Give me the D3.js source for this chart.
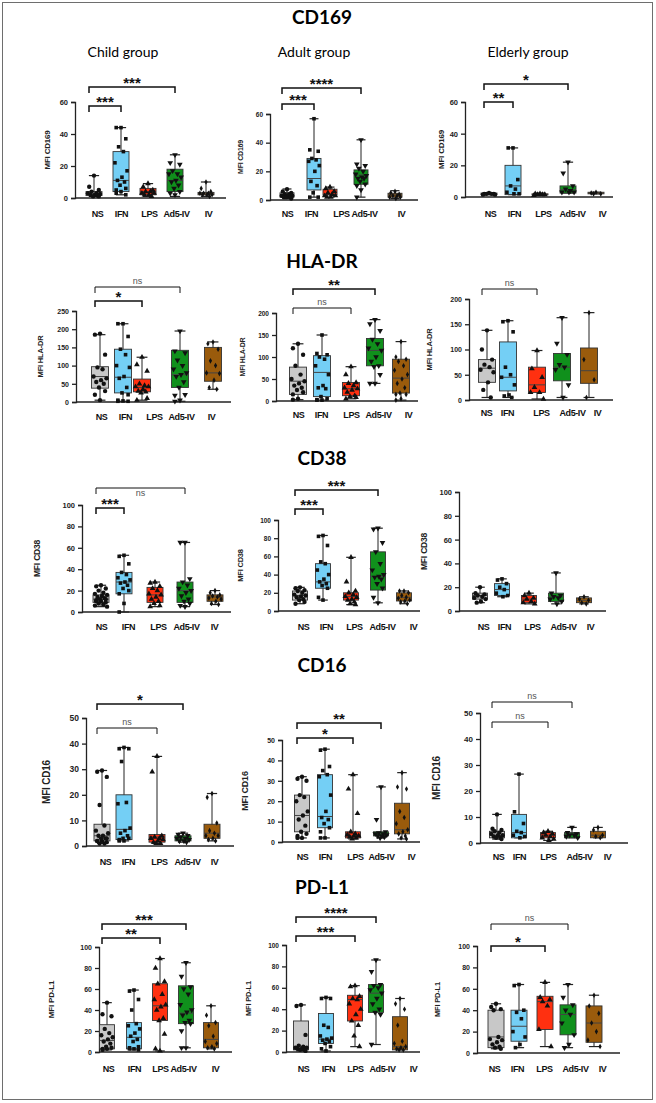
<!DOCTYPE html>
<html>
<head>
<meta charset="utf-8">
<script src="https://cdn.jsdelivr.net/npm/d3@7"></script>
<style>
body { margin: 0; background: #fff; }
svg { display: block; }
</style>
</head>
<body>
<div id="chart"></div>
<script>
// groups, colours of the boxes
var groups = ["NS", "IFN", "LPS", "Ad5-IV", "IV"];
var ages = ["Child group", "Adult group", "Elderly group"];
var markers = ["CD169", "HLA-DR", "CD38", "CD16", "PD-L1"];

// box stats per group: [min, q1, median, q3, max]
var cd169ChildBox = [[1,1.5,2.5,4,14],[2,4,11,29,44],[1,2,4,6,9],[1,4,11,18,27],[1,2,3,3.5,10]];
var cd169ChildPts = [[14,7,5,4,3,3,2.5,2,2,1.5,1,1],[44,44,37,32,29,22,17,13,11,10,8,6,5,4,3,2],[9,7,5,4,4,3,3,2,2,1],[27,22,21,17,15,15,13,11,10,8,6,4,3,2],[10,6,4,3,3,3,2,2,2,1]];
var cd169AdultBox = [[1,2,3,5,7.7],[2,7,15,29,56.7],[2,3.5,4,7.5,9],[2,11,17.5,21,42],[1,2,3.5,4.7,6.5]];
var cd169AdultPts = [[7.5,6,5,4,4,3,3,3,2,2,2,1],[56.7,35,34,29,28,27,24,20,13,10,5,2,2],[9,8,6,5,4,3,3,2,2],[42,25,24,22,20,18,17,16,15,15,13,11,10,7,2],[6,5,4,3,3,2,2,1]];
var cd169ElderBox = [[1.5,1.5,2,2.5,2.7],[1.5,1.5,7,20,31],[1,1.5,1.5,2,2.5],[2.5,2.5,4.6,7,22],[2,2,2.5,3,3]];
var cd169ElderPts = [[2.5,2,2,2,2,1.5,1.5],[31,31,11,7,5,3,2,2],[2,2,1.5,1.5,1.5,1],[22,15,7,5,4,3,3,3],[3,2.5,2,2]];

var hlaChildBox = [[5,38,70,97,185],[2,25,68,145,215],[5,28,40,63,123],[2,40,75,142,195],[35,57,80,150,165]];
var hlaChildPts = [[188,185,130,95,90,70,65,60,55,50,40,30,20,5],[215,215,180,145,130,100,95,70,65,40,25,20,5,3,2,2],[123,103,85,50,45,42,42,35,30,28,25,10,5],[195,140,135,115,100,90,80,75,70,55,40,20,18,5,2],[165,160,145,113,100,80,78,60,40,35]];
var hlaAdultBox = [[3,15,45,77,130],[2,10,65,103,150],[5,12,28,42,78],[40,80,115,142,185],[2,18,52,95,135]];
var hlaAdultPts = [[130,120,105,80,60,50,45,40,35,30,25,20,15,5,3],[150,108,105,100,95,80,60,35,30,28,10,5,3,2,2],[78,60,42,40,35,30,28,25,20,12,10,8,5],[185,175,160,140,130,120,115,100,90,80,78,60,40,40],[135,100,95,90,80,70,60,50,40,30,18,15,15,5,2]];
var hlaElderBox = [[5,35,63,80,138],[5,18,45,115,157],[2,15,30,65,98],[5,38,65,92,163],[5,33,58,103,173]];
var hlaElderPts = [[138,100,80,70,65,60,55,35,20,5],[157,155,135,65,50,45,30,10,8,5],[98,62,45,25,15,15,2],[163,112,90,70,65,60,30,5],[173,80,40,5]];

var cd38ChildBox = [[5,9,12,16,25],[0,17,28,37,53],[5,9,16,23,28],[5,9,20,28,65],[7,10,14,16,20]];
var cd38ChildPts = [[25,24,22,20,18,17,16,15,14,13,12,12,11,10,10,9,8,7,6,5],[53,52,45,37,35,32,30,28,27,25,22,20,17,8,0],[28,27,24,22,20,17,16,14,12,10,8,6,5],[65,65,31,28,25,22,20,18,15,12,10,8,6,5],[20,18,16,15,14,13,12,10,8,7]];
var cd38AdultBox = [[8,12,17,22,26],[12,25,32,52,83],[7,12,16,20,59],[9,23,38,65,91],[8,11,15,20,22]];
var cd38AdultPts = [[26,25,23,22,20,18,17,16,15,13,12,10,8],[83,82,72,54,52,45,40,35,32,30,28,25,15,12],[59,32,22,20,18,16,15,13,12,10,8,7],[91,90,75,65,52,45,40,38,37,35,30,25,15,9],[22,22,20,17,15,14,12,11,10,8]];
var cd38ElderBox = [[7,10,13,15,20],[12,13,18,23,27],[6,7,10,13,15],[6,8,12,15,32],[6,7,9,11,12]];
var cd38ElderPts = [[20,15,14,13,12,11,10,8,7],[27,26,23,20,18,15,13,12],[15,13,11,10,8,7,6],[32,15,13,12,11,10,8,6],[12,10,9,7,6]];

var cd16ChildBox = [[1,2,4,8.5,29.5],[2,2.5,6.5,20,38.5],[1,1.5,3.5,4.5,35],[1.5,2,3,4,5],[2,3,5,8.5,20.5]];
var cd16ChildPts = [[29.5,29,27,16,8,6,5,4,4,3,3,3,2,2,2,1.5,1,1],[38.5,38,38,33,17,16.5,7,6,5,4,3,3,2.5,2,2],[35,29,4,3.5,3,3,2.5,2,1.5,1,1],[5,4.5,4,3.5,3,3,2.5,2,2,1.5],[20.5,19,9,6,5,4,4,3,2.5,2]];
var cd16AdultBox = [[2,5,13,23,32],[2,7,12.5,33,45.5],[1.5,2,3,5,33],[2,3,4,5,27],[1.5,4,6,19,34]];
var cd16AdultPts = [[32,31,30,23,22,20,15,13,11,8,5,4,3,2,2],[45.5,45,37,35,33,32,23,15,12,11,9,7,5,2,2],[33,26,14,5,4,3.5,3,3,2.5,2,1.5],[27,11,5,4.5,4,4,3.5,3,3,2.5,2],[34,27,26,15,12,9,6,5,4,3,2,1.5]];
var cd16ElderBox = [[1.5,2,3,4.5,11],[2,2,4,11,26.5],[1,2,3,4,4.5],[2,2,3.5,4,6],[2,2,3,4.5,6]];
var cd16ElderPts = [[11,5.5,5,4.5,4,3.5,3,3,2.5,2,2,1.5],[26.5,12,7.5,4.5,4,3,2.5,2],[4.5,4,3.5,3,2.5,2,1.5,1],[6,4,3.5,3,3,2.5,2],[6,5,3,2.5,2]];

var pdl1ChildBox = [[2,3,11,26,47],[2,3,14,28,59],[1,30,44,65,89],[4,27,37,63,85],[3,4,12,28,44]];
var pdl1ChildPts = [[47,36,34,22,18,16,14,12,10,8,5,4,3,3,2],[59,58,50,40,27,25,22,18,15,12,10,5,4,3,3,2],[89,80,67,65,55,50,45,43,40,32,30,17,3,1],[85,72,62,60,55,45,40,38,35,30,28,27,20,4,4],[44,35,28,25,15,10,8,5,4,3]];
var pdl1AdultBox = [[1,2,5,29,44],[1,8,12,36,51],[5,29,49,53,62],[7,37,55,63,86],[2,2,5,33,50]];
var pdl1AdultPts = [[44,43,16,6,5,4,4,3,3,2,2,1],[51,50,50,25,23,15,13,12,11,10,8,5,3,1],[62,61,52,50,49,45,40,35,29,25,15,5],[86,75,63,62,60,58,55,50,45,40,37,35,7],[50,45,40,25,10,8,5,4,3,2,2]];
var pdl1ElderBox = [[4,5,15,40,46],[5,11,25,40,64],[6,22,48,53,66],[5,17,36,45,64],[6,10,28,44,54]];
var pdl1ElderPts = [[46,43,41,40,15,13,12,10,8,6,5,4],[64,63,40,38,32,20,15,8,5],[66,52,50,48,44,22,6],[64,52,45,40,36,28,17,8,5],[54,44,37,28,20,12,6]];

// significance brackets: [from, to, label]
var cd169ChildSig = [["NS","Ad5-IV","***"],["NS","IFN","***"]];
var cd169AdultSig = [["NS","Ad5-IV","****"],["NS","IFN","***"]];
var cd169ElderSig = [["NS","Ad5-IV","*"],["NS","IFN","**"]];
var hlaChildSig = [["NS","Ad5-IV","ns"],["NS","LPS","*"]];
var hlaAdultSig = [["NS","Ad5-IV","**"],["NS","LPS","ns"]];
var hlaElderSig = [["NS","LPS","ns"]];
var cd38ChildSig = [["NS","Ad5-IV","ns"],["NS","IFN","***"]];
var cd38AdultSig = [["NS","Ad5-IV","***"],["NS","IFN","***"]];
var cd38ElderSig = [];
var cd16ChildSig = [["NS","Ad5-IV","*"],["NS","LPS","ns"]];
var cd16AdultSig = [["NS","Ad5-IV","**"],["NS","LPS","*"]];
var cd16ElderSig = [["NS","Ad5-IV","ns"],["NS","LPS","ns"]];
var pdl1ChildSig = [["NS","Ad5-IV","***"],["NS","LPS","**"]];
var pdl1AdultSig = [["NS","Ad5-IV","****"],["NS","LPS","***"]];
var pdl1ElderSig = [["NS","Ad5-IV","ns"],["NS","LPS","*"]];

var yMax = [60, 60, 60, 250, 200, 200, 100, 100, 100, 50, 50, 50, 100, 100, 100];

// ---- layout (pixels) ----
var fills = ["#c8c8c8", "#74cff5", "#ff3010", "#10901c", "#9a5b0c"];
var shapes = [d3.symbolCircle, d3.symbolSquare, d3.symbolTriangle, d3.symbolTriangle, d3.symbolDiamond];
var sizes = [15, 13, 14, 14, 9];
var jit = [0, -0.3, 0.3, -0.15, 0.15, -0.38, 0.38, 0.06, -0.22, 0.22, -0.06, 0.3, -0.3];

var panels = [
  {box:cd169ChildBox, pts:cd169ChildPts, sig:cd169ChildSig, l:75, r:226, y0:198, y1:102, step:20,
   cx:[94,121,148,175,206], lx:[97,121,149,176,208], ly:217, ylx:50, yl:"MFI CD169", ylf:8, tf:7.5, bw:16, by:[87,106]},
  {box:cd169AdultBox, pts:cd169AdultPts, sig:cd169AdultSig, l:270, r:418, y0:200, y1:114, step:20,
   cx:[287,314,330,361,395], lx:[287,311,341,364,401], ly:217, ylx:243, yl:"MFI CD169", ylf:7, tf:6.5, bw:14, by:[88,104]},
  {box:cd169ElderBox, pts:cd169ElderPts, sig:cd169ElderSig, l:465, r:613, y0:197, y1:102, step:20,
   cx:[489,513,540,568,596], lx:[490,514,543,572,602], ly:217, ylx:444, yl:"MFI CD169", ylf:8, tf:7.5, bw:16, by:[84,102]},

  {box:hlaChildBox, pts:hlaChildPts, sig:hlaChildSig, l:76, r:231, y0:402, y1:311, step:50,
   cx:[100,123,142,180,213], lx:[101,125,154,181,211], ly:420, ylx:43, yl:"MFI HLA-DR", ylf:7.5, tf:7, bw:17, by:[287,301]},
  {box:hlaAdultBox, pts:hlaAdultPts, sig:hlaAdultSig, l:276, r:418, y0:401, y1:313, step:50,
   cx:[298,322,351,375,401], lx:[298,321,351,378,408], ly:418, ylx:245, yl:"MFI HLA-DR", ylf:7, tf:6.5, bw:17, by:[289,308]},
  {box:hlaElderBox, pts:hlaElderPts, sig:hlaElderSig, l:469, r:613, y0:400, y1:299, step:50,
   cx:[487,508,537,562,589], lx:[486,507,541,572,597], ly:416, ylx:432, yl:"MFI HLA-DR", ylf:7.5, tf:7, bw:17, by:[289]},

  {box:cd38ChildBox, pts:cd38ChildPts, sig:cd38ChildSig, l:82, r:231, y0:612, y1:505, step:20,
   cx:[101,124,155,185,215], lx:[101,128,158,186,214], ly:630, ylx:40, yl:"MFI CD38", ylf:8.5, tf:7.5, bw:16, by:[488,508], nsBelow:true},
  {box:cd38AdultBox, pts:cd38AdultPts, sig:cd38AdultSig, l:278, r:420, y0:611, y1:520, step:20,
   cx:[300,323,351,378,404], lx:[303,326,354,382,413], ly:630, ylx:243, yl:"MFI CD38", ylf:7.5, tf:6.5, bw:15, by:[490,509]},
  {box:cd38ElderBox, pts:cd38ElderPts, sig:cd38ElderSig, l:459, r:606, y0:611, y1:492, step:20,
   cx:[480,502,529,556,584], lx:[483,504,532,563,590], ly:630, ylx:427, yl:"MFI CD38", ylf:8.5, tf:7.5, bw:15, by:[]},

  {box:cd16ChildBox, pts:cd16ChildPts, sig:cd16ChildSig, l:86, r:234, y0:846, y1:718, step:10,
   cx:[102,124,157,183,212], lx:[105,128,159,187,214], ly:865, ylx:50, yl:"MFI CD16", ylf:10, tf:8.5, bw:16, by:[704,728]},
  {box:cd16AdultBox, pts:cd16AdultPts, sig:cd16AdultSig, l:282, r:420, y0:842, y1:740, step:10,
   cx:[302,325,353,381,402], lx:[302,325,355,381,411], ly:860, ylx:248, yl:"MFI CD16", ylf:9, tf:7, bw:15, by:[723,738]},
  {box:cd16ElderBox, pts:cd16ElderPts, sig:cd16ElderSig, l:480, r:628, y0:843, y1:713, step:10,
   cx:[497,519,548,572,598], lx:[498,519,548,579,607], ly:860, ylx:440, yl:"MFI CD16", ylf:10, tf:8, bw:15, by:[702,722]},

  {box:pdl1ChildBox, pts:pdl1ChildPts, sig:pdl1ChildSig, l:99, r:232, y0:1052, y1:947, step:20,
   cx:[107,134,160,186,211], lx:[108,134,160,183,215], ly:1072, ylx:54, yl:"MFI PD-L1", ylf:8, tf:7, bw:15, by:[924,938]},
  {box:pdl1AdultBox, pts:pdl1AdultPts, sig:pdl1AdultSig, l:286, r:420, y0:1052, y1:945, step:20,
   cx:[301,326,355,376,400], lx:[303,328,355,382,413], ly:1072, ylx:251, yl:"MFI PD-L1", ylf:7.5, tf:6.5, bw:15, by:[917,936]},
  {box:pdl1ElderBox, pts:pdl1ElderPts, sig:pdl1ElderSig, l:477, r:620, y0:1053, y1:946, step:20,
   cx:[496,519,545,568,594], lx:[494,517,544,575,602], ly:1072, ylx:440, yl:"MFI PD-L1", ylf:7.5, tf:7, bw:16, by:[924,946]}
];

var titleY = [24, 268, 465, 672, 894];
var subX = [123, 314, 528];

var svg = d3.select("#chart").append("svg")
  .attr("width", 656)
  .attr("height", 1103);

svg.append("rect")
  .attr("x", 2.5).attr("y", 2.5)
  .attr("width", 650).attr("height", 1097)
  .attr("fill", "none")
  .attr("stroke", "#6e6e6e")
  .attr("stroke-width", 1);

svg.selectAll(".title")
  .data(markers)
  .enter().append("text")
    .attr("class", "title")
    .attr("x", 322)
    .attr("y", function(d, i) { return titleY[i]; })
    .attr("text-anchor", "middle")
    .attr("font-family", "Lato, 'Open Sans', sans-serif")
    .attr("font-weight", "bold")
    .attr("font-size", "19px")
    .text(function(d) { return d; });

svg.selectAll(".sub")
  .data(ages)
  .enter().append("text")
    .attr("class", "sub")
    .attr("x", function(d, i) { return subX[i]; })
    .attr("y", 57)
    .attr("text-anchor", "middle")
    .attr("font-family", "Lato, 'Open Sans', sans-serif")
    .attr("font-size", "14px")
    .text(function(d) { return d; });

var font = "'Liberation Sans', Arial, sans-serif";

panels.forEach(function(p, k) {
  var g = svg.append("g");

  var y = d3.scaleLinear()
    .domain([0, yMax[k]])
    .range([p.y0, p.y1]);
  var x = d3.scaleOrdinal().domain(groups).range(p.cx);
  var xl = d3.scaleOrdinal().domain(groups).range(p.lx);

  // y axis
  var yAxis = g.append("g")
    .attr("transform", "translate(" + p.l + ",0)")
    .call(d3.axisLeft(y).tickValues(d3.range(0, yMax[k] + 0.001, p.step)).tickSize(4).tickPadding(3));
  yAxis.selectAll("text")
    .attr("font-family", font)
    .attr("font-weight", "bold")
    .attr("font-size", p.tf + "px")
    .attr("fill", "#222");
  yAxis.selectAll("line, path").attr("stroke", "#222").attr("stroke-width", 1.3);

  // x axis line
  g.append("line")
    .attr("x1", p.l).attr("x2", p.r)
    .attr("y1", p.y0).attr("y2", p.y0)
    .attr("stroke", "#222").attr("stroke-width", 1.4);

  var xAxis = g.append("g")
    .attr("transform", "translate(0," + p.ly + ")")
    .call(d3.axisBottom(xl).tickSize(0).tickPadding(0));
  xAxis.select(".domain").remove();
  xAxis.selectAll("text")
    .attr("dy", 0)
    .attr("font-family", font)
    .attr("font-weight", "bold")
    .attr("font-size", "9px")
    .attr("letter-spacing", "-0.4px")
    .attr("fill", "#111");

  // y label
  g.append("text")
    .attr("transform", "translate(" + p.ylx + "," + ((p.y0 + p.y1) / 2) + ") rotate(-90)")
    .attr("text-anchor", "middle")
    .attr("font-family", font)
    .attr("font-weight", "bold")
    .attr("font-size", p.ylf + "px")
    .attr("letter-spacing", "-0.2px")
    .attr("fill", "#222")
    .text(p.yl);

  // boxes
  var boxes = g.selectAll(".bx")
    .data(p.box)
    .enter().append("g");

  boxes.append("line")
    .attr("x1", function(d, i) { return x(groups[i]); })
    .attr("x2", function(d, i) { return x(groups[i]); })
    .attr("y1", function(d) { return y(d[0]); })
    .attr("y2", function(d) { return y(d[4]); })
    .attr("stroke", "#222").attr("stroke-width", 1);

  [0, 4].forEach(function(j) {
    boxes.append("line")
      .attr("x1", function(d, i) { return x(groups[i]) - p.bw * 0.32; })
      .attr("x2", function(d, i) { return x(groups[i]) + p.bw * 0.32; })
      .attr("y1", function(d) { return y(d[j]); })
      .attr("y2", function(d) { return y(d[j]); })
      .attr("stroke", "#222").attr("stroke-width", 1.2);
  });

  boxes.append("rect")
    .attr("x", function(d, i) { return x(groups[i]) - p.bw / 2; })
    .attr("y", function(d) { return y(d[3]); })
    .attr("width", p.bw)
    .attr("height", function(d) { return Math.max(1, y(d[1]) - y(d[3])); })
    .attr("fill", function(d, i) { return fills[i]; })
    .attr("stroke", "#333").attr("stroke-width", 0.9);

  boxes.append("line")
    .attr("x1", function(d, i) { return x(groups[i]) - p.bw / 2; })
    .attr("x2", function(d, i) { return x(groups[i]) + p.bw / 2; })
    .attr("y1", function(d) { return y(d[2]); })
    .attr("y2", function(d) { return y(d[2]); })
    .attr("stroke", "#444").attr("stroke-width", 1);

  // points
  p.pts.forEach(function(vals, i) {
    g.selectAll(".pt" + i)
      .data(vals)
      .enter().append("path")
        .attr("d", d3.symbol().type(shapes[i]).size(sizes[i]))
        .attr("transform", function(v, j) {
          var px = x(groups[i]) + jit[j % jit.length] * p.bw;
          return "translate(" + px + "," + y(v) + ")" + (i == 3 ? " rotate(180)" : "");
        })
        .attr("fill", "#111");
  });

  // brackets
  p.sig.forEach(function(s, j) {
    var by = p.by[j];
    var ns = s[2] == "ns";
    var xa = x(s[0]) - 5, xb = x(s[1]);
    g.append("path")
      .attr("d", "M" + xa + "," + (by + 6) + "V" + by + "H" + xb + "V" + (by + 6))
      .attr("fill", "none")
      .attr("stroke", "#111")
      .attr("stroke-width", ns ? 1 : 1.5);
    g.append("text")
      .attr("x", (xa + xb) / 2)
      .attr("y", ns ? (p.nsBelow ? by + 8 : by - 3) : by + 1)
      .attr("text-anchor", "middle")
      .attr("font-family", font)
      .attr("font-weight", ns ? "normal" : "bold")
      .attr("font-size", ns ? "9px" : "15px")
      .attr("fill", ns ? "#555" : "#111")
      .text(s[2]);
  });
});
</script>
</body>
</html>
